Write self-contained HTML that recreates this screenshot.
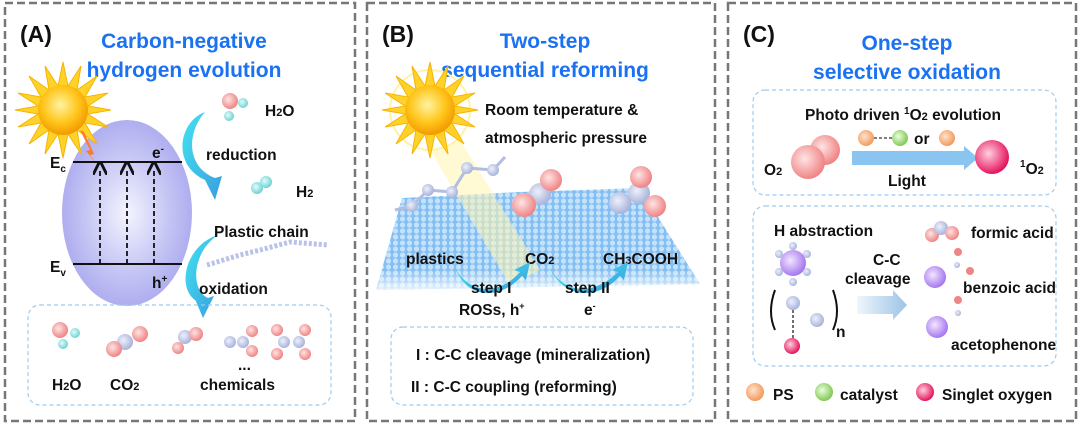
<!DOCTYPE html>
<html><head><meta charset="utf-8"><style>
html,body{margin:0;padding:0;background:#fff;}
svg{display:block;}
text{font-family:"Liberation Sans",sans-serif;font-weight:bold;fill:#111;}
.t{fill:#1a72f2;font-size:21px;text-anchor:middle;}
.l{font-size:23px;}
.s{font-size:15.5px;}
</style></head><body>
<svg width="1080" height="424" viewBox="0 0 1080 424" xmlns="http://www.w3.org/2000/svg">
<defs>
<radialGradient id="ell" cx="50%" cy="50%" r="55%"><stop offset="0" stop-color="#f4f4ff"/><stop offset="0.6" stop-color="#c4c4f4"/><stop offset="1" stop-color="#a9a7ee"/></radialGradient>
<radialGradient id="sun" cx="45%" cy="40%" r="60%"><stop offset="0" stop-color="#fff3a0"/><stop offset="0.6" stop-color="#ffc51a"/><stop offset="1" stop-color="#f29a00"/></radialGradient>
<radialGradient id="red" cx="40%" cy="40%" r="60%"><stop offset="0" stop-color="#ffe4e4"/><stop offset="1" stop-color="#ef8585"/></radialGradient>
<radialGradient id="cy" cx="40%" cy="40%" r="60%"><stop offset="0" stop-color="#e4fbfb"/><stop offset="1" stop-color="#6fd3d3"/></radialGradient>
<radialGradient id="gr" cx="40%" cy="40%" r="60%"><stop offset="0" stop-color="#eef0fb"/><stop offset="1" stop-color="#a9b4dc"/></radialGradient>
<radialGradient id="pk" cx="40%" cy="40%" r="60%"><stop offset="0" stop-color="#ffd0e0"/><stop offset="1" stop-color="#e5165e"/></radialGradient>
<radialGradient id="or" cx="40%" cy="40%" r="60%"><stop offset="0" stop-color="#ffe3cc"/><stop offset="1" stop-color="#f39a5e"/></radialGradient>
<radialGradient id="gn" cx="40%" cy="40%" r="60%"><stop offset="0" stop-color="#eaffd9"/><stop offset="1" stop-color="#82c959"/></radialGradient>
<radialGradient id="pu" cx="40%" cy="40%" r="60%"><stop offset="0" stop-color="#f4e6ff"/><stop offset="1" stop-color="#a678f0"/></radialGradient>
<linearGradient id="arr" x1="0" y1="0" x2="1" y2="1"><stop offset="0" stop-color="#43e2f0"/><stop offset="1" stop-color="#3a9ee0"/></linearGradient>
<linearGradient id="arr2" x1="0" x2="1"><stop offset="0" stop-color="#eef6fc"/><stop offset="1" stop-color="#9cc4e6"/></linearGradient>
<linearGradient id="fade" x1="0" y1="0" x2="0" y2="1"><stop offset="0" stop-color="#fff" stop-opacity="0"/><stop offset="0.8" stop-color="#fff" stop-opacity="0"/><stop offset="1" stop-color="#fff" stop-opacity="0.8"/></linearGradient>
<pattern id="dots" width="7" height="6" patternUnits="userSpaceOnUse"><rect width="7" height="6" fill="#6fb2ee"/><circle cx="3.5" cy="3" r="2.6" fill="#b8defc"/></pattern>
<marker id="ah" markerWidth="8" markerHeight="8" refX="4" refY="4" orient="auto"><path d="M0,0 L8,4 L0,8" fill="none" stroke="#111" stroke-width="1.6"/></marker>
<g id="star"><polygon points="0,-48 5,-24 18,-44 14,-20 34,-34 22,-13 45,-17 25,-4 48,0 25,4 45,17 22,13 34,34 14,20 18,44 5,24 0,48 -5,24 -18,44 -14,20 -34,34 -22,13 -45,17 -25,4 -48,0 -25,-4 -45,-17 -22,-13 -34,-34 -14,-20 -18,-44 -5,-24" fill="#ffd22a" stroke="#f6b400" stroke-width="1"/><circle r="25" fill="url(#sun)"/></g>
</defs>

<rect x="5" y="3" width="350" height="418" fill="none" stroke="#777" stroke-width="2.5" stroke-dasharray="8,4"/>
<rect x="367" y="3" width="348" height="418" fill="none" stroke="#777" stroke-width="2.5" stroke-dasharray="8,4"/>
<rect x="728" y="3" width="348" height="418" fill="none" stroke="#777" stroke-width="2.5" stroke-dasharray="8,4"/>

<!-- ===== Panel A ===== -->
<text x="20" y="42" class="l">(A)</text>
<text x="184" y="48" class="t">Carbon-negative</text>
<text x="184" y="77" class="t">hydrogen evolution</text>
<ellipse cx="127" cy="213" rx="65" ry="93" fill="url(#ell)"/>
<use href="#star" x="63" y="110"/>
<path d="M80,130 L90,150 L86,151 L100,168 L90,155 L94,154 L84,132 Z" fill="#ff7a2a"/>
<line x1="73" y1="162" x2="182" y2="162" stroke="#111" stroke-width="2"/>
<line x1="73" y1="264" x2="182" y2="264" stroke="#111" stroke-width="2"/>
<g stroke="#111" stroke-width="1.8" stroke-dasharray="5,3" marker-end="url(#ah)"><line x1="100" y1="264" x2="100" y2="168"/><line x1="127" y1="264" x2="127" y2="168"/><line x1="154" y1="264" x2="154" y2="168"/></g>
<text x="50" y="168" class="s">E<tspan font-size="10" dy="4">c</tspan></text>
<text x="50" y="272" class="s">E<tspan font-size="10" dy="4">v</tspan></text>
<text x="152" y="158" class="s">e<tspan font-size="10" dy="-6">-</tspan></text>
<text x="152" y="288" class="s">h<tspan font-size="10" dy="-6">+</tspan></text>
<path d="M205,112 C178,122 172,165 205,180 L200,170 L215,200 L222,176 L215,178 C188,168 185,135 205,112 Z" fill="url(#arr)"/>
<path d="M218,235 C185,245 175,290 198,302 L192,292 L203,318 L214,296 L208,298 C190,290 192,252 218,235 Z" fill="url(#arr)"/>
<circle cx="230" cy="101" r="8" fill="url(#red)"/><circle cx="243" cy="103" r="5" fill="url(#cy)"/><circle cx="229" cy="116" r="5" fill="url(#cy)"/>
<text x="265" y="116" class="s">H<tspan font-size="11">2</tspan>O</text>
<text x="206" y="160" class="s">reduction</text>
<circle cx="257" cy="188" r="6" fill="url(#cy)"/><circle cx="266" cy="182" r="6" fill="url(#cy)"/>
<text x="296" y="197" class="s">H<tspan font-size="11">2</tspan></text>
<text x="214" y="237" class="s">Plastic chain</text>
<path d="M207,265 L240,255 L260,250 L290,242 L328,245" fill="none" stroke="#b9c2e8" stroke-width="5" stroke-dasharray="3,2"/>
<text x="199" y="294" class="s">oxidation</text>
<rect x="28" y="305" width="303" height="100" rx="12" fill="none" stroke="#9ccbf0" stroke-width="1.2" stroke-dasharray="4,3"/>
<circle cx="60" cy="330" r="8" fill="url(#red)"/><circle cx="75" cy="333" r="5" fill="url(#cy)"/><circle cx="63" cy="344" r="5" fill="url(#cy)"/>
<circle cx="125" cy="342" r="8" fill="url(#gr)"/><circle cx="114" cy="349" r="8" fill="url(#red)"/><circle cx="140" cy="334" r="8" fill="url(#red)"/>
<circle cx="185" cy="337" r="7" fill="url(#gr)"/><circle cx="196" cy="334" r="7" fill="url(#red)"/><circle cx="178" cy="348" r="6" fill="url(#red)"/>
<circle cx="230" cy="342" r="6" fill="url(#gr)"/><circle cx="243" cy="342" r="6" fill="url(#gr)"/><circle cx="252" cy="331" r="6" fill="url(#red)"/><circle cx="252" cy="351" r="6" fill="url(#red)"/>
<circle cx="284" cy="342" r="6" fill="url(#gr)"/><circle cx="299" cy="342" r="6" fill="url(#gr)"/><circle cx="277" cy="330" r="6" fill="url(#red)"/><circle cx="277" cy="354" r="6" fill="url(#red)"/><circle cx="305" cy="330" r="6" fill="url(#red)"/><circle cx="305" cy="354" r="6" fill="url(#red)"/>
<text x="52" y="390" class="s">H<tspan font-size="11">2</tspan>O</text>
<text x="110" y="390" class="s">CO<tspan font-size="11">2</tspan></text>
<text x="238" y="370" class="s">...</text>
<text x="200" y="390" class="s">chemicals</text>

<!-- ===== Panel B ===== -->
<text x="382" y="42" class="l">(B)</text>
<text x="545" y="48" class="t">Two-step</text>
<text x="545" y="77" class="t">sequential reforming</text>
<polygon points="376,290 402,198 520,192 640,188 700,284" fill="url(#dots)" opacity="0.85"/>
<polygon points="376,290 402,198 520,192 640,188 700,284" fill="url(#fade)"/>
<polygon points="430,150 460,140 540,270 510,285" fill="#fff6b0" opacity="0.55"/>
<circle cx="430" cy="110" r="40" fill="none" stroke="#fff2a8" stroke-width="2"/>
<use href="#star" x="430" y="110"/>
<text x="485" y="115" class="s" font-size="17">Room temperature &amp;</text>
<text x="485" y="143" class="s" font-size="17">atmospheric pressure</text>
<path d="M395,210 L412,206 L428,190 L452,192 L467,168 L493,170 L505,157" fill="none" stroke="#b3bde0" stroke-width="3"/>
<g fill="url(#gr)"><circle cx="412" cy="206" r="6"/><circle cx="428" cy="190" r="6"/><circle cx="452" cy="192" r="6"/><circle cx="467" cy="168" r="6"/><circle cx="493" cy="170" r="6"/></g>
<circle cx="540" cy="194" r="11" fill="url(#gr)"/><circle cx="524" cy="205" r="12" fill="url(#red)"/><circle cx="551" cy="180" r="11" fill="url(#red)"/>
<circle cx="620" cy="203" r="11" fill="url(#gr)"/><circle cx="639" cy="193" r="11" fill="url(#gr)"/><circle cx="641" cy="177" r="11" fill="url(#red)"/><circle cx="655" cy="206" r="11" fill="url(#red)"/>
<text x="406" y="264" class="s" font-size="17">plastics</text>
<text x="525" y="264" class="s" font-size="17">CO<tspan font-size="11">2</tspan></text>
<text x="603" y="264" class="s" font-size="17">CH<tspan font-size="11">3</tspan>COOH</text>
<path d="M455,268 C470,295 500,295 520,272 L514,270 L530,262 L526,280 L522,276 C500,300 468,300 455,268 Z" fill="url(#arr)"/>
<path d="M550,268 C565,295 595,295 618,272 L612,270 L628,262 L624,280 L620,276 C598,300 565,300 550,268 Z" fill="url(#arr)"/>
<text x="471" y="293" class="s" font-size="14">step I</text>
<text x="459" y="315" class="s" font-size="14" font-weight="normal">ROSs, h<tspan font-size="9" dy="-6">+</tspan></text>
<text x="565" y="293" class="s" font-size="14">step II</text>
<text x="584" y="315" class="s" font-size="14">e<tspan font-size="9" dy="-6">-</tspan></text>
<rect x="391" y="327" width="302" height="78" rx="12" fill="none" stroke="#9ccbf0" stroke-width="1.2" stroke-dasharray="4,3"/>
<text x="416" y="360" class="s" font-size="16.5">I : C-C cleavage (mineralization)</text>
<text x="411" y="392" class="s" font-size="16.5">II : C-C coupling (reforming)</text>

<!-- ===== Panel C ===== -->
<text x="743" y="42" class="l">(C)</text>
<text x="907" y="50" class="t">One-step</text>
<text x="907" y="79" class="t">selective oxidation</text>
<rect x="753" y="90" width="303" height="105" rx="12" fill="none" stroke="#9ccbf0" stroke-width="1.2" stroke-dasharray="4,3"/>
<text x="903" y="120" class="s" text-anchor="middle">Photo driven <tspan font-size="10" dy="-6">1</tspan><tspan dy="6">O</tspan><tspan font-size="11">2</tspan> evolution</text>
<circle cx="825" cy="150" r="15" fill="url(#red)"/><circle cx="808" cy="162" r="17" fill="url(#red)"/>
<text x="764" y="175" class="s" font-size="17">O<tspan font-size="11">2</tspan></text>
<line x1="874" y1="138" x2="892" y2="138" stroke="#333" stroke-width="1.2" stroke-dasharray="3,2"/>
<circle cx="866" cy="138" r="8" fill="url(#or)"/><circle cx="900" cy="138" r="8" fill="url(#gn)"/>
<text x="914" y="144" class="s" font-size="14">or</text>
<circle cx="947" cy="138" r="8" fill="url(#or)"/>
<path d="M852,151 L964,151 L964,146 L978,158 L964,170 L964,165 L852,165 Z" fill="#8ac4f0"/>
<text x="888" y="186" class="s" font-size="13">Light</text>
<circle cx="992" cy="157" r="17" fill="url(#pk)"/>
<text x="1020" y="174" class="s" font-size="17"><tspan font-size="10" dy="-7">1</tspan><tspan dy="7">O</tspan><tspan font-size="11">2</tspan></text>
<rect x="753" y="206" width="303" height="160" rx="12" fill="none" stroke="#9ccbf0" stroke-width="1.2" stroke-dasharray="4,3"/>
<text x="774" y="236" class="s" font-size="17">H abstraction</text>
<circle cx="793" cy="263" r="13" fill="url(#pu)"/>
<g fill="url(#gr)"><circle cx="793" cy="246" r="4"/><circle cx="779" cy="254" r="4"/><circle cx="807" cy="254" r="4"/><circle cx="779" cy="272" r="4"/><circle cx="807" cy="272" r="4"/><circle cx="793" cy="282" r="4"/><circle cx="793" cy="303" r="7"/><circle cx="817" cy="320" r="7"/></g>
<path d="M775,290 Q767,312 775,330 M833,290 Q841,312 833,330" fill="none" stroke="#111" stroke-width="2"/>
<text x="836" y="337" class="s" font-size="11">n</text>
<line x1="793" y1="310" x2="793" y2="340" stroke="#111" stroke-width="1.2" stroke-dasharray="3,2"/>
<circle cx="792" cy="346" r="8" fill="url(#pk)"/>
<text x="873" y="265" class="s" font-size="13">C-C</text>
<text x="845" y="284" class="s" font-size="13">cleavage</text>
<path d="M857,296 L893,296 L893,290 L907,305 L893,320 L893,314 L857,314 Z" fill="url(#arr2)"/>
<circle cx="932" cy="235" r="7" fill="url(#red)"/><circle cx="941" cy="228" r="7" fill="url(#gr)"/><circle cx="952" cy="233" r="7" fill="url(#red)"/>
<text x="971" y="238" class="s" font-size="13">formic acid</text>
<circle cx="935" cy="277" r="11" fill="url(#pu)"/><circle cx="957" cy="265" r="3" fill="url(#gr)"/><circle cx="958" cy="252" r="4" fill="#ef8585"/><circle cx="970" cy="271" r="4" fill="#ef8585"/>
<text x="963" y="293" class="s" font-size="13">benzoic acid</text>
<circle cx="937" cy="327" r="11" fill="url(#pu)"/><circle cx="958" cy="313" r="3" fill="url(#gr)"/><circle cx="958" cy="300" r="4" fill="#ef8585"/>
<text x="951" y="350" class="s" font-size="13">acetophenone</text>
<circle cx="755" cy="392" r="9" fill="url(#or)"/><text x="773" y="400" class="s" font-size="18">PS</text>
<circle cx="824" cy="392" r="9" fill="url(#gn)"/><text x="840" y="400" class="s" font-size="18">catalyst</text>
<circle cx="925" cy="392" r="9" fill="url(#pk)"/><text x="942" y="400" class="s" font-size="18">Singlet oxygen</text>
</svg>
</body></html>
